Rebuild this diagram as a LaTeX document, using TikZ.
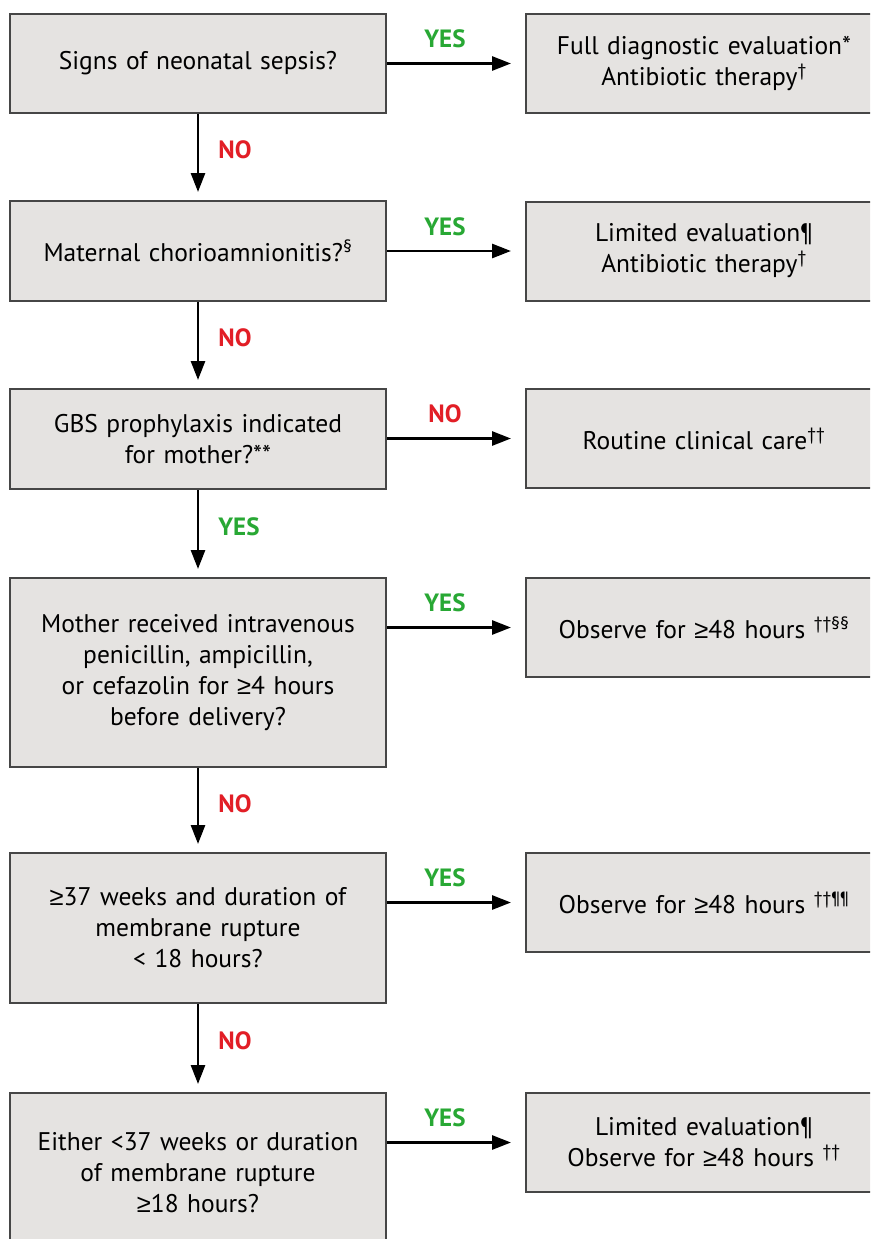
\documentclass[tikz,border=0pt]{standalone}
\usepackage{fontspec}
\setmainfont{PT Sans}
\newfontfamily\symfont{Liberation Sans}
\newcommand{\gesign}{{\symfont ≥}}
\usetikzlibrary{arrows.meta}
\definecolor{boxfill}{RGB}{229,227,225}
\definecolor{boxline}{RGB}{70,70,70}
\definecolor{yesgreen}{RGB}{40,168,52}
\definecolor{nored}{RGB}{226,30,38}
\tikzset{
    qbox/.style={draw=boxline, fill=boxfill, line width=2pt, inner sep=0pt,
        minimum width=376pt, text width=360pt, align=center,
        font=\fontsize{25.5}{31}\selectfont},
    abox/.style={qbox, minimum width=356pt, text width=350pt, minimum height=99pt},
    flowarrow/.style={line width=2.8pt, -{Triangle[length=19pt,width=14pt]}},
    yeslbl/.style={text=yesgreen, inner sep=0pt, font=\fontsize{25}{25}\bfseries\selectfont},
    nolbl/.style={yeslbl, text=nored},
}

\begin{document}
\begin{tikzpicture}[x=1pt, y=-1pt]
    \clip (0,0) rectangle (870,1239);
    \fill[white] (0,0) rectangle (870,1239);
    % questions on the left
    \node[qbox, minimum height=99pt]  (q1) at (198,63.5)  {Signs of neonatal sepsis?};
    \node[qbox, minimum height=100pt] (q2) at (198,251)   {Maternal chorioamnionitis?\textsuperscript{§}};
    \node[qbox, minimum height=100pt] (q3) at (198,439)   {GBS prophylaxis indicated\\for mother?**};
    \node[qbox, minimum height=189pt] (q4) at (198,672.5) {Mother received intravenous\\penicillin, ampicillin,\\or cefazolin for \gesign4 hours\\before delivery?};
    \node[qbox, minimum height=150pt] (q5) at (198,928)   {\gesign37 weeks and duration of\\membrane rupture\\< 18 hours?};
    \node[qbox, minimum height=160pt] (q6) at (198,1173)  {Either <37 weeks or duration\\of membrane rupture\\\gesign18 hours?};
    % actions on the right
    \node[abox] (a1) at (704,63.5)   {Full diagnostic evaluation*\\Antibiotic therapy\textsuperscript{†}};
    \node[abox] (a2) at (704,251)    {Limited evaluation¶\\Antibiotic therapy\textsuperscript{†}};
    \node[abox] (a3) at (704,438.5)  {Routine clinical care\textsuperscript{††}};
    \node[abox] (a4) at (704,627.5)  {Observe for \gesign48 hours \textsuperscript{††§§}};
    \node[abox] (a5) at (704,902.5)  {Observe for \gesign48 hours \textsuperscript{††¶¶}};
    \node[abox] (a6) at (704,1142.5) {Limited evaluation¶\\Observe for \gesign48 hours \textsuperscript{††}};
    % horizontal branches
    \draw[flowarrow, shorten >=14pt] (q1.east |- a1.west) -- node[yeslbl, pos=0.42, above=14pt] {YES} (a1.west);
    \draw[flowarrow, shorten >=14pt] (q2.east |- a2.west) -- node[yeslbl, pos=0.42, above=14pt] {YES} (a2.west);
    \draw[flowarrow, shorten >=14pt] (q3.east |- a3.west) -- node[nolbl, pos=0.42, above=14pt] {NO} (a3.west);
    \draw[flowarrow, shorten >=14pt] (q4.east |- a4.west) -- node[yeslbl, pos=0.42, above=14pt] {YES} (a4.west);
    \draw[flowarrow, shorten >=14pt] (q5.east |- a5.west) -- node[yeslbl, pos=0.42, above=14pt] {YES} (a5.west);
    \draw[flowarrow, shorten >=14pt] (q6.east |- a6.west) -- node[yeslbl, pos=0.42, above=14pt] {YES} (a6.west);
    % vertical branches
    \draw[flowarrow, shorten >=8pt] (q1.south) -- node[nolbl, pos=0.42, right=19pt] {NO} (q2.north);
    \draw[flowarrow, shorten >=8pt] (q2.south) -- node[nolbl, pos=0.42, right=19pt] {NO} (q3.north);
    \draw[flowarrow, shorten >=8pt] (q3.south) -- node[yeslbl, pos=0.42, right=19pt] {YES} (q4.north);
    \draw[flowarrow, shorten >=8pt] (q4.south) -- node[nolbl, pos=0.42, right=19pt] {NO} (q5.north);
    \draw[flowarrow, shorten >=8pt] (q5.south) -- node[nolbl, pos=0.42, right=19pt] {NO} (q6.north);
\end{tikzpicture}
\end{document}
